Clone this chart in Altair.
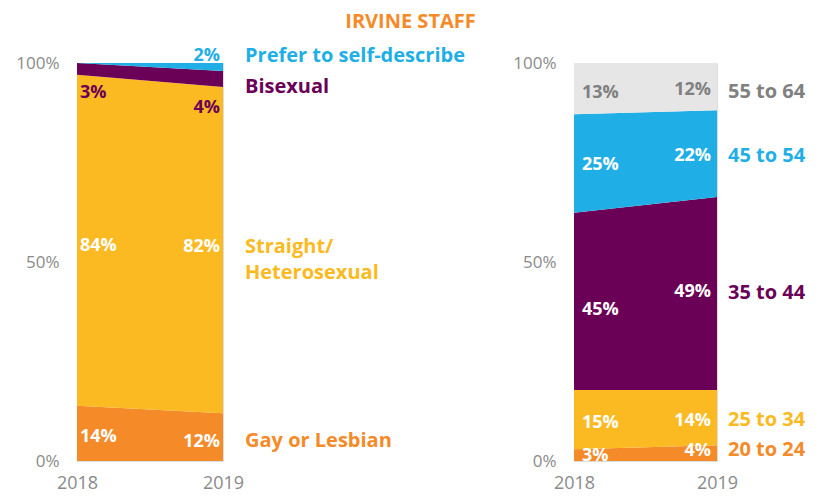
import altair as alt
import pandas as pd

years = [2018, 2019]

orientation_cats = ["Gay or Lesbian", "Straight/Heterosexual", "Bisexual", "Prefer to self-describe"]
orientation_names = ["Gay or Lesbian", "Straight/\nHeterosexual", "Bisexual", "Prefer to self-describe"]
orientation_2018 = [14, 84, 3, 0]
orientation_2019 = [12, 82, 4, 2]

age_cats = ["20 to 24", "25 to 34", "35 to 44", "45 to 54", "55 to 64"]
age_2018 = [3, 15, 45, 25, 13]
age_2019 = [4, 14, 49, 22, 12]

ORANGE = "#F58A29"
YELLOW = "#FBBA22"
PURPLE = "#6B0057"
BLUE = "#1FAFE6"
LIGHT = "#E6E6E6"
GRAY = "#808080"
FONT = "Open Sans"

orientation_fill = [ORANGE, YELLOW, PURPLE, BLUE]
orientation_valcolor = ["white", "white", PURPLE, BLUE]
orientation_namecolor = [ORANGE, YELLOW, PURPLE, BLUE]
# label nudges in pixels: (2018 value, 2019 value, series name)
orientation_nudge = [(4, 5, 4), (6, -3, -3), (24, 29, 8), (0, -11, -11)]

age_fill = [ORANGE, YELLOW, PURPLE, BLUE, LIGHT]
age_valcolor = ["white", "white", "white", "white", GRAY]
age_namecolor = [ORANGE, YELLOW, PURPLE, BLUE, GRAY]
age_nudge = [(1, -2, -3), (3, 3, 2), (9, -2, -1), (2, 2, 2), (4, 3, 5)]


def long_df(cats, names, v18, v19, valcolor, namecolor, nudge):
    rows = []
    for k, (yr, vals) in enumerate(zip(years, [v18, v19])):
        total = sum(vals)
        bottom = 0
        for i, (c, v) in enumerate(zip(cats, vals)):
            rows.append(dict(year=yr, cat=c, name=names[i], idx=i, value=v,
                             mid=(bottom + v / 2) / total, pct=f"{v}%",
                             vcol=valcolor[i], ncol=namecolor[i],
                             vdy=nudge[i][k], ndy=nudge[i][2]))
            bottom += v
    return pd.DataFrame(rows)


x_axis = alt.Axis(values=years, format="d", title=None, labelFontSize=18,
                  labelPadding=13, labelColor="#8a8a8a", labelFont=FONT,
                  domain=False, ticks=False, grid=False, labelFlush=False)
y_axis = alt.Axis(values=[0, 0.5, 1], format="%", title=None, labelFontSize=17,
                  labelPadding=18, labelColor="#8a8a8a", labelFont=FONT,
                  domain=False, ticks=False, grid=False)
x_scale = alt.Scale(domain=[2018, 2019], nice=False, zero=False)
y_scale = alt.Scale(domain=[0, 1], nice=False)


def panel(df, cats, fill, w, name_dx, val_dx18, val_dx19):
    base = alt.Chart(df)
    area = base.mark_area(opacity=1).encode(
        x=alt.X("year:Q", scale=x_scale, axis=x_axis),
        y=alt.Y("value:Q", stack="normalize", scale=y_scale, axis=y_axis),
        color=alt.Color("cat:N", scale=alt.Scale(domain=cats, range=fill), legend=None),
        order=alt.Order("idx:Q"),
    )
    common = dict(
        x=alt.X("year:Q", scale=x_scale, axis=x_axis),
        y=alt.Y("mid:Q", scale=y_scale, axis=y_axis),
        color=alt.Color("vcol:N", scale=None),
        text=alt.Text("pct:N"),
    )
    layers = [area]
    for yr, align, dx in [(2018, "left", val_dx18), (2019, "right", val_dx19)]:
        sub = df[(df.year == yr) & (df.value > 0)]
        for dy in sorted(sub.vdy.unique()):
            layers.append(
                base.transform_filter(
                    f"datum.year == {yr} && datum.value > 0 && datum.vdy == {dy}"
                ).mark_text(align=align, baseline="middle", dx=dx, dy=int(dy),
                            fontSize=18, fontWeight="bold", font=FONT).encode(**common)
            )
    sub = df[df.year == 2019]
    for dy in sorted(sub.ndy.unique()):
        layers.append(
            base.transform_filter(f"datum.year == 2019 && datum.ndy == {dy}").mark_text(
                align="left", baseline="middle", dx=name_dx, dy=int(dy), fontSize=20,
                fontWeight="bold", font=FONT, lineBreak="\n", lineHeight=26
            ).encode(
                x=alt.X("year:Q", scale=x_scale, axis=x_axis),
                y=alt.Y("mid:Q", scale=y_scale, axis=y_axis),
                text=alt.Text("name:N"),
                color=alt.Color("ncol:N", scale=None),
            )
        )
    return alt.layer(*layers).properties(width=w, height=398)


left_df = long_df(orientation_cats, orientation_names, orientation_2018, orientation_2019,
                  orientation_valcolor, orientation_namecolor, orientation_nudge)
right_df = long_df(age_cats, age_cats, age_2018, age_2019,
                   age_valcolor, age_namecolor, age_nudge)

left = panel(left_df, orientation_cats, orientation_fill, 146, 22, 3, -3)
right = panel(right_df, age_cats, age_fill, 143, 11, 8, -6)

chart = alt.hconcat(left, right, spacing=351, bounds="flush").resolve_scale(
    color="independent"
).properties(
    title=alt.TitleParams("IRVINE STAFF", fontSize=20, font=FONT, fontWeight="bold",
                          color=ORANGE, anchor="middle", offset=13)
).configure_view(stroke=None).configure(padding={"left": 7, "top": 4, "right": 5, "bottom": 5})

chart.save("out.html", embed_options={"renderer": "svg", "actions": False})
